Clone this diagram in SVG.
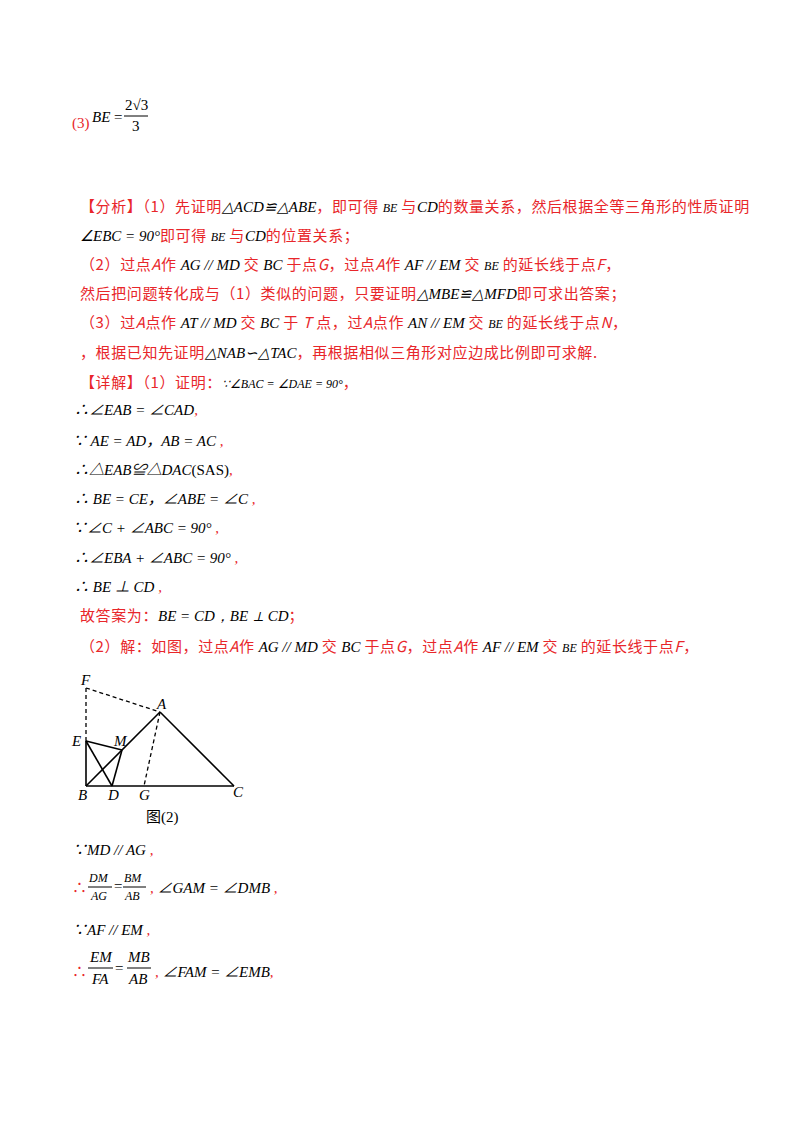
<svg xmlns="http://www.w3.org/2000/svg" width="800" height="1132" viewBox="0 0 800 1132">
<style>
text{font-family:"Liberation Serif","Noto Sans CJK SC",serif;font-size:15px;fill:#000}
.r,.r text{fill:#e8262a}
.cn text{font-family:"Noto Sans CJK SC",sans-serif;font-size:15px;letter-spacing:0.6px}
.i{font-style:italic}
.m{font-family:"Liberation Serif",serif;font-style:italic;fill:#000;letter-spacing:0}
.s{font-size:12px}
.ln{stroke:#000;stroke-width:1.6;fill:none}
.d{stroke:#000;stroke-width:1.3;fill:none;stroke-dasharray:4 3}
</style>
<rect width="800" height="1132" fill="#fff"/>
<text x="72" y="128" class="r">(3)</text>
<text x="92" y="122" class="i">BE</text><text x="114" y="122">=</text>
<text x="125" y="110">2√3</text><line x1="124" y1="116" x2="148" y2="116" stroke="#000"/>
<text x="132" y="131">3</text>

<g class="r cn">
<text x="80" y="212">【分析】（1）先证明<tspan class="m">△ACD≌△ABE</tspan>，即可得 <tspan class="m s">BE</tspan> 与<tspan class="m">CD</tspan>的数量关系，然后根据全等三角形的性质证明</text>
<text x="80" y="241"><tspan class="m">∠EBC = 90°</tspan>即可得 <tspan class="m s">BE</tspan> 与<tspan class="m">CD</tspan>的位置关系；</text>
<text x="80" y="270">（2）过点<tspan class="i">A</tspan>作 <tspan class="m">AG // MD</tspan> 交 <tspan class="m">BC</tspan> 于点<tspan class="i">G</tspan>，过点<tspan class="i">A</tspan>作 <tspan class="m">AF // EM</tspan> 交 <tspan class="m s">BE</tspan> 的延长线于点<tspan class="i">F</tspan>，</text>
<text x="80" y="299">然后把问题转化成与（1）类似的问题，只要证明<tspan class="m">△MBE≌△MFD</tspan>即可求出答案；</text>
<text x="80" y="328">（3）过<tspan class="i">A</tspan>点作 <tspan class="m">AT // MD</tspan> 交 <tspan class="m">BC</tspan> 于 <tspan class="i">T</tspan> 点，过<tspan class="i">A</tspan>点作 <tspan class="m">AN // EM</tspan> 交 <tspan class="m s">BE</tspan> 的延长线于点<tspan class="i">N</tspan>，</text>
<text x="80" y="358">，根据已知先证明<tspan class="m">△NAB∽△TAC</tspan>，再根据相似三角形对应边成比例即可求解.</text>
<text x="80" y="388">【详解】（1）证明：<tspan class="m s">∵∠BAC = ∠DAE = 90°</tspan>，</text>
<text x="80" y="621">故答案为：<tspan class="m">BE = CD，BE ⊥ CD</tspan>；</text>
<text x="80" y="652">（2）解：如图，过点<tspan class="i">A</tspan>作 <tspan class="m">AG // MD</tspan> 交 <tspan class="m">BC</tspan> 于点<tspan class="i">G</tspan>，过点<tspan class="i">A</tspan>作 <tspan class="m">AF // EM</tspan> 交 <tspan class="m s">BE</tspan> 的延长线于点<tspan class="i">F</tspan>，</text>
</g>
<g class="i">
<text x="74" y="415">∴∠EAB = ∠CAD<tspan class="r">,</tspan></text>
<text x="72" y="446">∵ AE = AD，AB = AC<tspan class="r"> ,</tspan></text>
<text x="74" y="475">∴△EAB≌△DAC<tspan font-style="normal">(SAS)</tspan><tspan class="r">,</tspan></text>
<text x="74" y="504">∴ BE = CE，∠ABE = ∠C<tspan class="r"> ,</tspan></text>
<text x="72" y="533">∵∠C + ∠ABC = 90°<tspan class="r"> ,</tspan></text>
<text x="74" y="563">∴∠EBA + ∠ABC = 90°<tspan class="r"> ,</tspan></text>
<text x="74" y="592">∴ BE ⊥ CD<tspan class="r"> ,</tspan></text>
</g>

<g id="figure">
<g id="connectors">
<line class="ln" x1="86" y1="786" x2="234" y2="786"/>
<line class="ln" x1="86" y1="786" x2="86" y2="741"/>
<line class="ln" x1="86" y1="786" x2="160" y2="712"/>
<line class="ln" x1="160" y1="712" x2="234" y2="786"/>
<line class="ln" x1="86" y1="741" x2="122" y2="750"/>
<line class="ln" x1="122" y1="750" x2="112" y2="786"/>
<line class="ln" x1="86" y1="741" x2="112" y2="786"/>
<line class="d" x1="86" y1="741" x2="86" y2="688"/>
<line class="d" x1="86" y1="688" x2="160" y2="712"/>
<line class="d" x1="160" y1="712" x2="144" y2="786"/>
</g>
<g class="i">
<text x="81" y="685">F</text><text x="157" y="709">A</text><text x="72" y="746">E</text>
<text x="114" y="746">M</text><text x="78" y="800">B</text><text x="108" y="800">D</text>
<text x="139" y="800">G</text><text x="233" y="797">C</text>
</g>
<text x="146" y="822">图(2)</text>
</g>

<g class="i">
<text x="72" y="855">∵MD // AG<tspan class="r"> ,</tspan></text>
<text x="89" y="882" class="s">DM</text><line x1="88" y1="887" x2="112" y2="887" stroke="#000"/><text x="91" y="900" class="s">AG</text>
<text x="114" y="891" font-style="normal">=</text>
<text x="124" y="882" class="s">BM</text><line x1="123" y1="887" x2="146" y2="887" stroke="#000"/><text x="125" y="900" class="s">AB</text>
<text x="150" y="893"><tspan class="r">,</tspan>  ∠GAM = ∠DMB<tspan class="r"> ,</tspan></text>
<text x="72" y="935">∵AF // EM<tspan class="r"> ,</tspan></text>
<text x="90" y="962">EM</text><line x1="88" y1="968" x2="113" y2="968" stroke="#000"/><text x="92" y="984">FA</text>
<text x="115" y="973" font-style="normal">=</text>
<text x="128" y="962">MB</text><line x1="127" y1="968" x2="151" y2="968" stroke="#000"/><text x="129" y="984">AB</text>
<text x="155" y="977"><tspan class="r">,</tspan>  ∠FAM = ∠EMB<tspan class="r">,</tspan></text>
<text x="72" y="893" class="r" font-style="normal">∴</text>
<text x="72" y="977" class="r" font-style="normal">∴</text>
</g>
</svg>
